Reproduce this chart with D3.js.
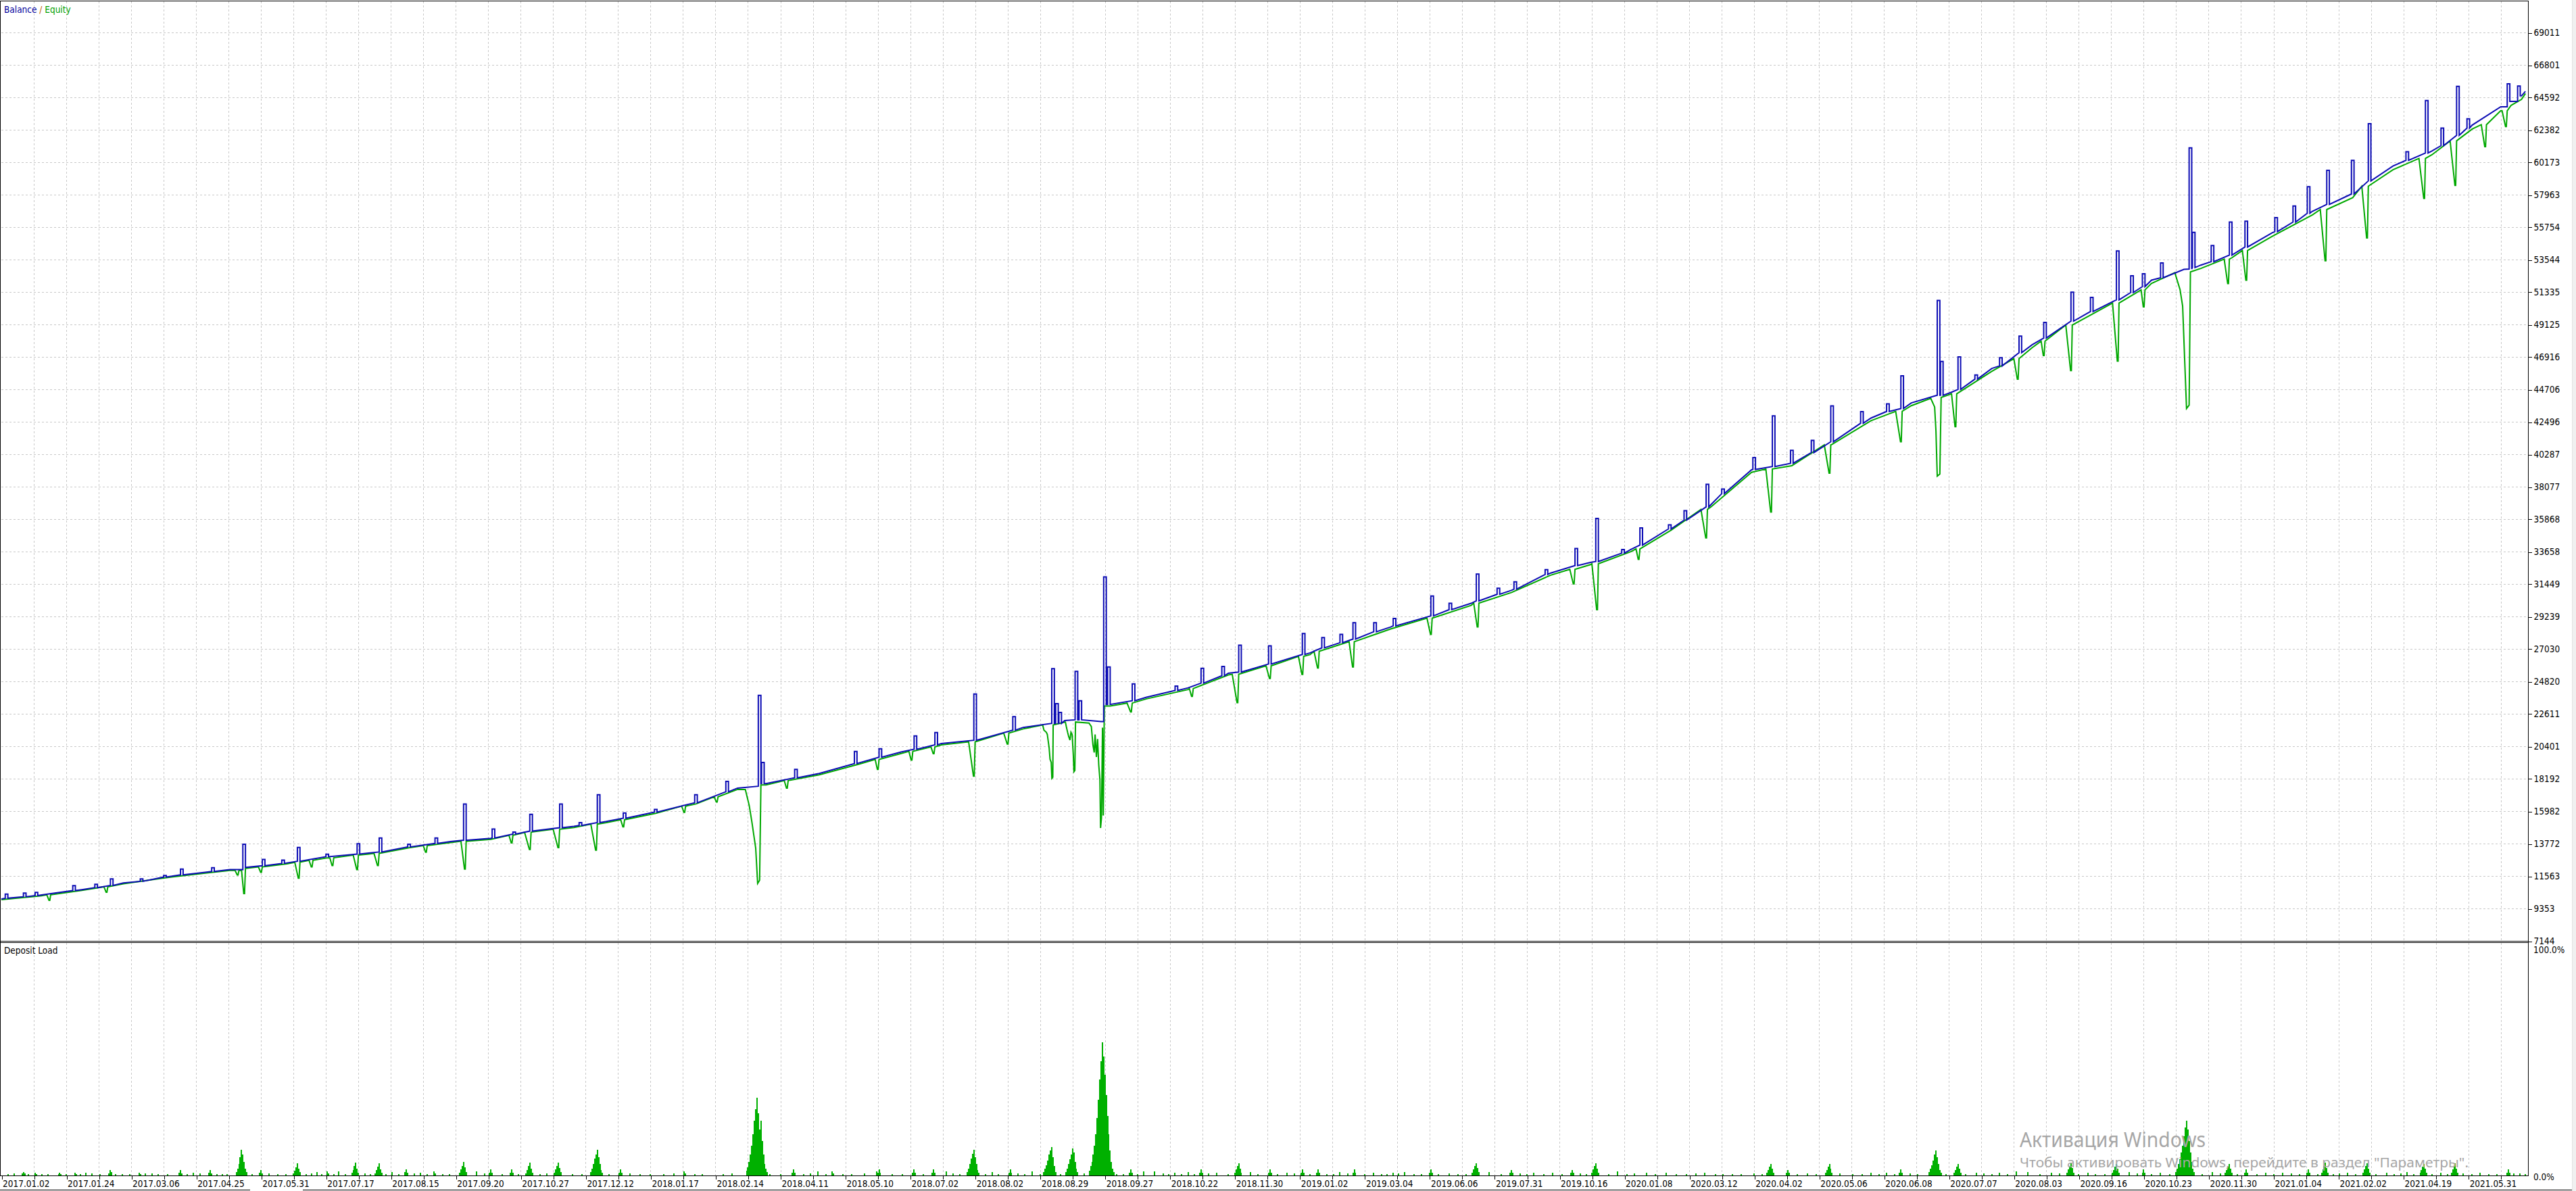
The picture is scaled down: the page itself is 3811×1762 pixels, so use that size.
<!DOCTYPE html>
<html>
<head>
<meta charset="utf-8">
<script src="https://cdn.jsdelivr.net/npm/d3@7"></script>
<style>
  body { margin: 0; background: #fff; overflow: hidden; }
  svg text { font-family: "DejaVu Sans Condensed", "DejaVu Sans", sans-serif; font-stretch: condensed; font-size: 13.5px; fill: #000; }
  .grid line { stroke: #c8c8c8; stroke-width: 1; stroke-dasharray: 3,3; shape-rendering: crispEdges; }
  .frame { stroke: #000; stroke-width: 1; fill: none; shape-rendering: crispEdges; }
  .axis path.domain { display: none; }
  .axis line { stroke: #000; shape-rendering: crispEdges; }
  .watermark { font-family: "Noto Sans", "Open Sans", sans-serif !important; fill: #a6a6a6 !important; }
</style>
</head>
<body>
<svg id="chart"></svg>
<script>
// date labels under the chart, one every 50 deals
const dateLabels = ["2017.01.02","2017.01.24","2017.03.06","2017.04.25","2017.05.31","2017.07.17","2017.08.15","2017.09.20","2017.10.27","2017.12.12",
  "2018.01.17","2018.02.14","2018.04.11","2018.05.10","2018.07.02","2018.08.02","2018.08.29","2018.09.27","2018.10.22","2018.11.30",
  "2019.01.02","2019.03.04","2019.06.06","2019.07.31","2019.10.16","2020.01.08","2020.03.12","2020.04.02","2020.05.06","2020.06.08",
  "2020.07.07","2020.08.03","2020.09.16","2020.10.23","2020.11.30","2021.01.04","2021.02.02","2021.04.19","2021.05.31"];

// right axis values (top to bottom)
const yTickLabels = [69011,66801,64592,62382,60173,57963,55754,53544,51335,49125,46916,44706,42496,40287,38077,35868,
  33658,31449,29239,27030,24820,22611,20401,18192,15982,13772,11563,9353,7144];

const dealCount = 1946;

// balance / equity trend (deal index -> value)
const trendIdx = [0,31,62,94,125,157,176,188,220,251,283,314,346,359,377,409,441,466,504,535,
  567,583,589,630,661,693,724,750,787,810,819,847,854,882,914,945,977,1008,1039,1070,
  1101,1132,1163,1193,1224,1255,1286,1317,1348,1379,1410,1440,1471,1490,1502,1533,1564,1595,1626,1656,
  1681,1694,1718,1749,1780,1811,1842,1872,1903,1925,1933,1941,1944];
const balanceVal = [10000,10271,10635,11090,11490,11818,12000,12145,12455,12874,13128,13547,13911,14002,14130,14640,14948,15276,15913,16550,
  17550,17678,17860,18552,19280,20008,20590,20808,21682,21955,22155,22083,23247,23739,24376,25377,26000,26761,27641,28521,
  29254,30135,31015,32188,32922,33802,35269,36883,39230,39670,41138,42751,43778,44277,44512,46126,47739,49353,50673,52140,
  52874,53167,53901,55368,56834,58008,59915,60942,62702,63950,64316,64690,65000];
const equityVal = [9950,10220,10580,11030,11430,11760,11940,12080,12390,12800,13060,13480,13840,13930,14060,14570,14870,15200,15830,16470,
  17460,17590,17770,18460,19190,19910,20490,20710,21580,21850,22050,21980,23140,23630,24260,25260,25880,26640,27510,28390,
  29120,29990,30870,32040,32770,33650,35110,36720,39060,39500,40960,42570,43590,44090,44320,45930,47540,49140,50460,51920,
  52650,52940,53670,55130,56590,57760,59660,60680,62430,63680,64050,64450,64850];

// balance pulses: [deal, base, top, value after]
const balanceSpikes = [[4,10050,10326],[18,10150,10400],[27,10230,10450],[56,10570,10908],[73,10770,11000],[85,10920,11363],
  [108,11200,11363],[126,11490,11600],[139,11640,12036],[163,11870,12127],[187,12000,13730,12145],[202,12260,12691],
  [217,12420,12640],[229,12570,13510],[251,12874,13050],[275,13060,13765],[292,13200,14148],[314,13547,13730],
  [335,13780,14148],[357,14000,16460],[379,14150,14766],[395,14420,14550],[408,14620,15767],[431,14850,16460],
  [446,15000,15200],[460,15200,17096],[480,15500,15850],[504,15913,16100],[535,16550,17096],[559,17300,18006],
  [584,17678,23866,17860],[586.5,17860,19300],[612,18250,18825],[658,19220,20044],[677,19650,20226],[704,20200,21100],
  [720,20500,21337],[750,20808,23957],[780,21500,22410],[810,21955,25687],[813,21955,23300],[815.5,21955,22700],
  [828,22200,25504],[831,22200,23500],[850,22083,31929,23247],[853,23247,25800],
  [872,23500,24649],[905,24200,24500],[925,24700,25705],[941,25200,25832],[954,25450,27288],[977,26000,27233],
  [1003,26650,28082],[1018,27100,27800],[1032,27450,28023],[1042,27700,28815],[1058,28200,28815],[1073,28600,29100],
  [1102,29280,30634],[1116,29700,30135],[1137,30300,32130],[1153,30750,31165],[1166,31100,31600],[1190,32100,32427],
  [1213,32700,33860],[1229,32980,35914],[1249,33550,33800],[1263,34100,35269],[1285,35200,35475],[1297,35800,36444],
  [1314,36700,38234],[1326,37600,37911],[1350,39250,40052],[1365,39450,42898],[1379,39670,40550],[1395,40400,41225],
  [1410,41138,43573],[1433,42400,43190],[1453,43200,43720],[1464,43400,45627],[1492,44300,50761],[1494.5,44300,46600],
  [1508,44700,46918],[1521,45400,45686],[1540,46300,46860],[1555,47200,48327],[1574,48200,49265],[1595,49353,51318],
  [1610,50000,50966],[1630,50800,54135],[1641,51300,52434],[1650,51700,52580],[1664,52300,53314],[1686,52900,61148],
  [1688.5,53000,55400],[1703,53400,54500],[1717,53850,56101],[1729,54400,56160],[1752,55450,56395],[1766,56100,57190],
  [1777,56700,58507],[1792,57300,59622],[1811,58008,60297],[1824,58900,62791],[1853,60300,60884],[1868,60800,64375],
  [1880,61300,62497],[1892,62000,65343],[1900,62500,63132],[1931,63950,65513,64316],[1939,64316,65366,64690]];

// simple equity drawdowns: [deal, base, low, deals of decline, value after]
const equityDips = [[37,10280,9907,2],[81,10830,10453,2],[182,11940,11636,2],[187,11940,10362,2,12080],[200,12180,11818,2],
  [229,12500,11418,3],[239,12630,12182,2],[255,12800,12273,2],[274,12990,12000,3],[290,13110,12273,3],[327,13630,13183,2],
  [357,13930,12036,3],[393,14330,13820,2],[407,14530,13365,4],[429,14750,13492,4],[458,15100,13328,4],[479,15400,14912,2],
  [526,16320,15900,2],[551,16960,16600,2],[605,18060,17551,2],[675,19500,18825,2],[701,20050,19462,2],
  [718,20350,19900,2],[749,20700,18370,4],[775,21300,20554,3],
  [870,23340,22738,3],[917,24330,23800,2],[952,25300,23375,4],[977,25880,25013,3],[1002,26520,25295,3],[1014,26870,25735,3],
  [1041,27520,25793,3],[1101,29120,28023,3],[1137,30150,28521,3],[1211,32450,31455,3],[1229,32830,29695,4],[1261,33840,33128,2],
  [1313,36530,34596,4],[1363,39280,36356,4],[1408,40920,38997,4],[1463,43210,41138,4],[1505,44400,42164,3],
  [1553,46800,45392,3],[1573,47990,47006,2],[1594,49090,45978,4],[1630,50580,46624,4],[1650,51480,50321,2],
  [1715,53570,51905,3],[1729,54160,52140,3],[1790,56950,53461,4],[1822,58540,55016,4],[1866,60430,57715,4],[1890,61630,58595,4],
  [1913,62730,61236,3],[1929,63680,62600,3]];

// traced equity drawdowns (deal, value)
const equityTraces = [
  [[573,17460],[576,16368],[578,15276],[581,13456],[582.5,11054],[584,11272],[585,17770]],
  [[802,21850],[803,21500],[804.8,21356],[805.6,21203],[807,20282],[807.7,19515],[808.6,19300],[809.1,18212],[809.8,18290],[810.1,21850]],
  [[819.5,22050],[820.4,21663],[821.2,21356],[822.1,21050],[823,20820],[823.8,21356],[824.7,21203],[825.6,19822],[826.1,18670],[826.8,18750],[827.3,22050]],
  [[837.7,21980],[839.5,21740],[840.7,20512],[841.7,19975],[842.4,21203],[843.4,19669],[844.3,20896],[845.2,19132],[846.1,18135],
   [846.6,14837],[847.3,15527],[848.1,21663],[848.7,15681],[849.5,23140]],
  [[1486,44090],[1489,43500],[1490,41872],[1491,38791],[1493,38938],[1494,44150]],
  [[1674,52650],[1678,51500],[1680,50380],[1681.5,46859],[1683,43397],[1685,43632],[1686,52700]]];

// deposit load (%): first deal of each group and the bars of the group
const loadIdx = [16,26,44,57,65,83,93,106,116,137,148,160,174,181,199,225,243,251,260,270,288,301,311,323,333,353,366,376,392,404,
  426,454,476,526,574,609,629,640,674,702,717,728,744,763,776,794,803,820,838,869,880,888,904,914,923,936,950,962,976,990,
  1001,1013,1031,1041,1057,1072,1081,1100,1133,1146,1162,1180,1195,1209,1225,1245,1267,1282,1312,1326,1360,1375,1391,1405,1426,1440,
  1452,1462,1485,1504,1521,1539,1552,1561,1579,1591,1607,1626,1639,1649,1663,1675,1703,1713,1728,1744,1757,1776,1787,1807,
  1819,1837,1853,1863,1879,1887,1909,1930,1940];
const loadBars = [[0.8,1.4,0.8],[1.2,0.6],[0.6,1.2,0.6],[1.2,0.7],[1.2],[1.0,2.4,1.4],[0.7],[1.2,0.6],[0.9],[1.2,2.4,1.0],
  [1.2],[1.3,2.4,1.0],[0.7],[1.5,3,5,8,11.3,9,6,3,1.5],[1.2,2.4,1.0],[1,2,3.5,5.4,3,1.5],[1.4],[1.7,0.8],[1.7],[1.2,2.5,4,5.6,3,1.2],
  [1,2.4,3.8,5.4,2.8,1.2],[1.4],[1.4,2.6,1.2],[1.2],[1.7,0.8],[1.2,2.6,4.2,5.9,3.5,1.4],[1.7],[1.3,2.6,1.2],[1.3,2.6,1.2],[1,2.4,4,5.6,3,1.2],
  [1.2,2.6,4,5.6,3.2,1.4],[1.5,3,5,7.5,9,11.3,8,5,2.5,1.2],[1.3,2.6,1.2],[1.7,0.8],[2,3.5,6,9,13,18,24,29,34,27,20,24,15,9,5,3,1.5],
  [1.3,2.6,1.2],[1.7],[1.7,0.8],[1.7,1.3,2.6,1.2],[1.3,2.6,1.2],[1.3,2.6,1.2],[1.7],[1.5,3,5,7.5,9.5,11.3,8,5,2.5,1.2],[1.4],
  [1.3,2.6,1.2],[1.7],[1.5,3,4.5,6.5,9,11,12.3,8,4,1.5],[1.5,3,5,7,9,11.8,10,6,3,1.5],
  [2,4,6,9,13,18,25,33,42,50,58,52,44,35,26,18,11,6,3,1.5],[1.3,2.6,1.2],[1.7],[1.7],[1.2],[1.4],[1.3,2.6,1.2],[1.2],
  [1.2,2.6,4,5.4,3,1.2],[1.4],[1.3,2.6,1.2],[1.2],[1.3,2.6,1.2],[1.3,2.6,1.2],[1.4],[1.3,2.6,1.2],[1.2],[1.2],[1.4],[1.3,2.6,1.2],
  [1.2,2.6,4,5.4,3.2,1.4],[1.4],[1.3,2.4,1.2],[1.2],[1.2],[1.3,2.5,1.2],[1.2,2.6,4,5.4,3,1.2],[1.7],[1.2],[1.2],[1.2],[0.7],
  [1.2,2.4,3.8,5.1,3,1.2],[1.3,2.5,1.2],[0.9],[1.2,2.4,3.8,5.1,3,1.2],[0.7],[1.2],[1.2],[1.3,2.6,1.2],[1.5,3,4.5,6.5,9,11,8,5,2.5,1.2],
  [1.2,2.4,3.8,5.1,3,1.2],[1.2],[1.2],[1.7],[1.4],[1.2],[1.2,2.6,4,5.6,3.2,1.2],[1.2],[1.2,2.4,3.8,5.1,3,1.2],[1.4],[1.3,2.6,1.2],[1.2],
  [1.5,3,5,7,10,13,17,21,24,20,15,10,6,3,1.5],[1.4],[1.2,2.4,3.8,5.1,3,1.2],[1.3,2.6,1.2],[1.2],[1.2],[1.3,2.6,1.2],
  [1.2,2.6,4,5.6,3.2,1.2],[1.2],[1.2,2.6,4,5.4,3,1.2],[1.2],[1.4],[1.2,2.4,3.8,5.1,3,1.2],[1.2],[1.2,2.6,4,5.4,3,1.2],[1.2],
  [1.3,2.6,1.2],[0.9]];

// the low fringe of single small loads between the groups: [deal, %]
const loadFringe = [[5,0.6],[10,0.8],[21,0.6],[31,0.7],[36,0.6],[50,0.7],[61,0.6],[70,0.8],[76,0.6],[88,0.7],[99,0.6],[111,0.8],
  [121,0.6],[128,0.7],[143,0.6],[153,0.8],[166,0.6],[170,0.7],[193,0.6],[206,0.8],[213,0.6],[219,0.7],[235,0.6],[239,0.8],
  [247,0.6],[256,0.7],[265,0.6],[280,0.8],[284,0.6],[296,0.7],[306,0.6],[318,0.8],[328,0.6],[340,0.7],[345,0.6],[372,0.8],
  [386,0.6],[398,0.7],[415,0.6],[420,0.8],[440,0.6],[447,0.7],[468,0.6],[484,0.8],[492,0.6],[500,0.7],[510,0.6],[518,0.8],
  [534,0.6],[540,0.7],[556,0.6],[563,0.8],[592,0.6],[600,0.7],[618,0.6],[623,0.8],[635,0.6],[648,0.7],[655,0.6],[665,0.8],
  [686,0.6],[694,0.7],[710,0.6],[733,0.8],[738,0.6],[758,0.7],[768,0.6],[783,0.8],[788,0.6],[800,0.7],[816,0.6],[834,0.8],
  [859,0.6],[864,0.7],[875,0.6],[895,0.8],[899,0.6],[909,0.7],[919,0.6],[930,0.8],[945,0.6],[968,0.7],[983,0.6],[996,0.8],
  [1008,0.6],[1021,0.7],[1026,0.6],[1037,0.8],[1050,0.6],[1063,0.7],[1067,0.6],[1076,0.8],[1088,0.6],[1094,0.7],[1107,0.6],
  [1115,0.8],[1122,0.6],[1128,0.7],[1155,0.6],[1170,0.8],[1175,0.6],[1188,0.7],[1202,0.6],[1216,0.8],[1221,0.6],[1238,0.7],
  [1252,0.6],[1258,0.8],[1274,0.6],[1290,0.7],[1298,0.6],[1305,0.8],[1320,0.6],[1333,0.7],[1340,0.6],[1350,0.8],[1356,0.6],
  [1383,0.7],[1398,0.6],[1416,0.8],[1433,0.6],[1446,0.7],[1458,0.6],[1470,0.8],[1476,0.6],[1498,0.7],[1513,0.6],[1527,0.8],
  [1533,0.6],[1545,0.7],[1570,0.6],[1585,0.8],[1600,0.6],[1613,0.7],[1620,0.6],[1645,0.8],[1656,0.6],[1670,0.7],[1695,0.6],
  [1709,0.8],[1722,0.6],[1737,0.7],[1750,0.6],[1764,0.8],[1770,0.6],[1784,0.7],[1796,0.6],[1801,0.8],[1813,0.6],[1829,0.7],
  [1843,0.6],[1848,0.8],[1858,0.6],[1872,0.7],[1884,0.6],[1896,0.8],[1903,0.6],[1916,0.7],[1922,0.6],[1935,0.8],[1944,0.6]];

class TesterGraph {

  constructor(_config) {
    this.config = {
      parentElement: _config.parentElement,
      containerWidth: _config.containerWidth || 3811,
      containerHeight: _config.containerHeight || 1762,
      plotLeft: 2,
      plotRight: 3740,
      mainTop: 2,
      mainBottom: 1392,
      loadTop: 1395,
      loadBottom: 1739,
      spikeHalf: 1.0
    };
    this.initVis();
  }

  initVis() {
    let vis = this;
    const c = vis.config;

    vis.svg = d3.select(c.parentElement)
        .attr('width', c.containerWidth)
        .attr('height', c.containerHeight);

    vis.xScale = d3.scaleLinear()
        .domain([0, dealCount])
        .range([c.plotLeft, c.plotRight]);

    vis.yScale = d3.scaleLinear()
        .domain([yTickLabels[yTickLabels.length - 1], yTickLabels[0]])
        .range([c.mainBottom, 48]);

    vis.loadScale = d3.scaleLinear()
        .domain([0, 100])
        .range([c.loadBottom, 1400]);

    vis.gridX = d3.range(0, dealCount, 25);
    vis.renderVis();
  }

  renderVis() {
    let vis = this;
    const c = vis.config;
    const px = v => Math.round(v) + 0.5;

    // grids
    const grid = vis.svg.append('g').attr('class', 'grid');
    grid.selectAll('.hg').data(yTickLabels.slice(0, -1)).join('line')
        .attr('x1', c.plotLeft).attr('x2', c.plotRight)
        .attr('y1', d => px(vis.yScale(d))).attr('y2', d => px(vis.yScale(d)));
    grid.selectAll('.vg').data(vis.gridX.slice(1)).join('line')
        .attr('x1', d => px(vis.xScale(d))).attr('x2', d => px(vis.xScale(d)))
        .attr('y1', c.mainTop).attr('y2', c.mainBottom);
    grid.selectAll('.vg2').data(vis.gridX.slice(1)).join('line')
        .attr('x1', d => px(vis.xScale(d))).attr('x2', d => px(vis.xScale(d)))
        .attr('y1', c.loadTop).attr('y2', c.loadBottom);

    // deposit load bars
    const bars = loadFringe.slice();
    loadIdx.forEach((start, k) => loadBars[k].forEach((v, j) => bars.push([start + j, v])));
    vis.svg.append('g').selectAll('rect').data(bars).join('rect')
        .attr('x', d => Math.round(vis.xScale(d[0]) - 1))
        .attr('width', 2)
        .attr('y', d => Math.round(vis.loadScale(d[1])))
        .attr('height', d => c.loadBottom - Math.round(vis.loadScale(d[1])))
        .attr('fill', '#00b000')
        .attr('shape-rendering', 'crispEdges');

    // equity line (under balance)
    const inTrace = x => equityTraces.some(t => x >= t[0][0] && x <= t[t.length - 1][0]);
    let epts = trendIdx.map((d, i) => [d, equityVal[i]])
        .filter(p => !inTrace(p[0]) && !equityDips.some(e => p[0] >= e[0] - e[3] && p[0] <= e[0] + 1));
    equityDips.forEach(e => {
      const [i, base, low, lead, after] = e;
      epts.push([i - lead, base], [i - 0.3, low], [i + 0.3, low], [i + 1, after ?? base]);
    });
    equityTraces.forEach(t => t.forEach(p => epts.push(p)));
    epts.sort((a, b) => a[0] - b[0]);

    // balance line with its pulses
    const h = c.spikeHalf;
    let bpts = trendIdx.map((d, i) => [d, balanceVal[i]])
        .filter(p => !balanceSpikes.some(s => Math.abs(s[0] - p[0]) <= 1));
    balanceSpikes.forEach(s => {
      const [i, base, top, after] = s;
      bpts.push([i - h, base], [i - h, top], [i + h, top], [i + h, after ?? base]);
    });
    bpts.sort((a, b) => a[0] - b[0]);

    const line = d3.line()
        .x(d => vis.xScale(d[0]))
        .y(d => vis.yScale(d[1]));

    vis.svg.append('path').datum(epts)
        .attr('d', line)
        .attr('fill', 'none')
        .attr('stroke', '#00a800')
        .attr('stroke-width', 2)
        .attr('stroke-linejoin', 'miter');

    vis.svg.append('path').datum(bpts)
        .attr('d', line)
        .attr('fill', 'none')
        .attr('stroke', '#0c0cb4')
        .attr('stroke-width', 2)
        .attr('stroke-linejoin', 'miter');

    // frames
    vis.svg.append('line').attr('class', 'frame').attr('stroke-width', 1.5)
        .attr('x1', 0).attr('x2', c.plotRight).attr('y1', 1.5).attr('y2', 1.5);
    vis.svg.append('line').attr('class', 'frame')
        .attr('x1', 0.5).attr('x2', 0.5).attr('y1', 1).attr('y2', c.loadBottom);
    vis.svg.append('line').attr('class', 'frame')
        .attr('x1', c.plotRight + 0.5).attr('x2', c.plotRight + 0.5).attr('y1', 1).attr('y2', c.loadBottom + 1);
    vis.svg.append('line').attr('class', 'frame')
        .attr('x1', 0).attr('x2', c.plotRight).attr('y1', c.mainBottom + 0.5).attr('y2', c.mainBottom + 0.5);
    vis.svg.append('line').attr('class', 'frame')
        .attr('x1', 0).attr('x2', c.plotRight).attr('y1', c.loadTop - 0.5).attr('y2', c.loadTop - 0.5);
    vis.svg.append('line').attr('class', 'frame')
        .attr('x1', 0).attr('x2', c.plotRight).attr('y1', c.loadBottom + 0.5).attr('y2', c.loadBottom + 0.5);
    vis.svg.append('line').attr('class', 'frame')
        .attr('x1', 0).attr('x2', 370).attr('y1', 1760.5).attr('y2', 1760.5);
    vis.svg.append('line').attr('class', 'frame')
        .attr('x1', 448).attr('x2', 3805).attr('y1', 1760.5).attr('y2', 1760.5);
    vis.svg.append('rect').attr('x', 3805).attr('y', 0).attr('width', 6).attr('height', c.containerHeight).attr('fill', '#f0f0f0');
    vis.svg.append('line').attr('x1', 3805.5).attr('x2', 3805.5).attr('y1', 0).attr('y2', c.containerHeight)
        .attr('stroke', '#e3e3e3');

    // right axis
    const yAxis = d3.axisRight(vis.yScale)
        .tickValues(yTickLabels)
        .tickFormat(d3.format('d'))
        .tickSize(5)
        .tickPadding(3);
    vis.svg.append('g').attr('class', 'axis')
        .attr('transform', `translate(${c.plotRight + 0.5},0.5)`)
        .call(yAxis)
        .attr('font-size', null).attr('font-family', null);

    // load axis labels
    vis.svg.append('text').attr('x', c.plotRight + 8).attr('y', 1409.5).text('100.0%');
    vis.svg.append('text').attr('x', c.plotRight + 8).attr('y', 1745.5).text('0.0%');

    // bottom axis
    const xAxis = d3.axisBottom(vis.xScale)
        .tickValues(vis.gridX)
        .tickFormat(d => d % 50 === 0 ? dateLabels[d / 50] : '')
        .tickSize(5)
        .tickPadding(1.5);
    vis.svg.append('g').attr('class', 'axis')
        .attr('transform', `translate(0.5,${c.loadBottom + 0.5})`)
        .call(xAxis)
        .attr('font-size', null).attr('font-family', null)
        .selectAll('text')
        .attr('text-anchor', 'start')
        .attr('x', 1);

    // titles
    const legend = vis.svg.append('text').attr('x', 6).attr('y', 19);
    legend.append('tspan').text('Balance').style('fill', '#00009c');
    legend.append('tspan').text(' / ').style('fill', '#c06000');
    legend.append('tspan').text('Equity').style('fill', '#00a000');

    vis.svg.append('text').attr('x', 6).attr('y', 1411).text('Deposit Load');

    // windows activation watermark
    vis.svg.append('text').attr('class', 'watermark')
        .attr('x', 2988).attr('y', 1697)
        .attr('textLength', 275).attr('lengthAdjust', 'spacingAndGlyphs')
        .style('font-size', '31px')
        .text('Активация Windows');
    vis.svg.append('text').attr('class', 'watermark')
        .attr('x', 2988).attr('y', 1727)
        .attr('textLength', 664).attr('lengthAdjust', 'spacingAndGlyphs')
        .style('font-size', '20px')
        .text('Чтобы активировать Windows, перейдите в раздел "Параметры".');
  }
}

new TesterGraph({ parentElement: '#chart' });
</script>
</body>
</html>
